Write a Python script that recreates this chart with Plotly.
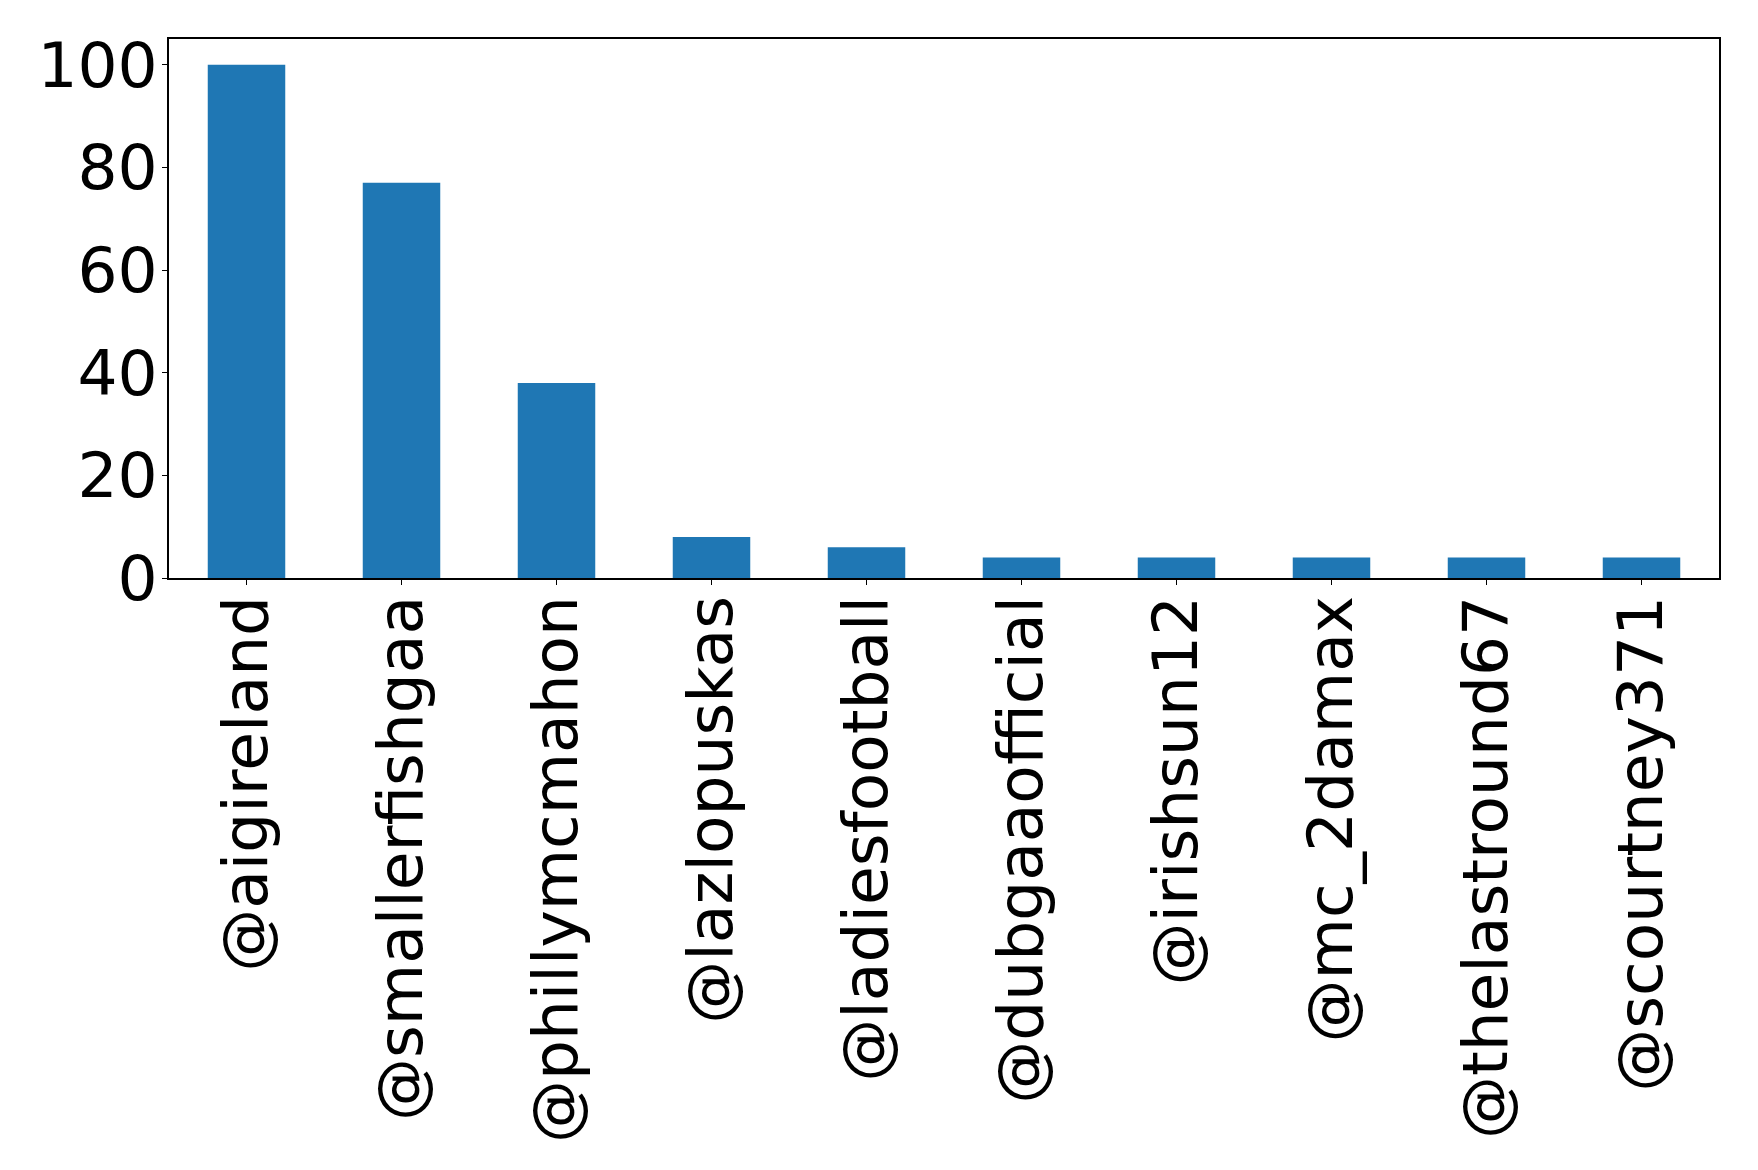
import plotly.graph_objects as go

# comptes par utilisateur mentionne
users = ["@aigireland", "@smallerfishgaa", "@phillymcmahon", "@lazlopuskas",
         "@ladiesfootball", "@dubgaaofficial", "@irishsun12", "@mc_2damax",
         "@thelastround67", "@scourtney371"]
counts = [100, 77, 38, 8, 6, 4, 4, 4, 4, 4]
y_ticks = [0, 20, 40, 60, 80, 100]

fig = go.Figure()
fig.add_trace(go.Bar(x=users, y=counts, marker_color="#1f77b4",
                     marker_line_width=0))

# la page html ajoute 8px de marge autour du div
fig.update_layout(
    width=1742, height=1154,
    margin=dict(l=161, r=31, t=31, b=584),
    plot_bgcolor="white", paper_bgcolor="white",
    bargap=0.5,
    showlegend=False,
    font=dict(family="DejaVu Sans", size=63, color="black"),
)
fig.update_xaxes(
    tickangle=-90, ticks="outside", ticklen=5, tickcolor="black",
    ticklabelstandoff=-14,
    showline=True, linecolor="black", linewidth=1.5, mirror=True,
    showgrid=False, range=[-0.5, 9.5],
)
fig.update_yaxes(
    tickvals=y_ticks, ticks="outside", ticklen=5, tickcolor="black",
    ticklabelstandoff=-8,
    showline=True, linecolor="black", linewidth=1.5, mirror=True,
    showgrid=False, zeroline=False, range=[0, 105],
)

fig.write_html("out.html")
